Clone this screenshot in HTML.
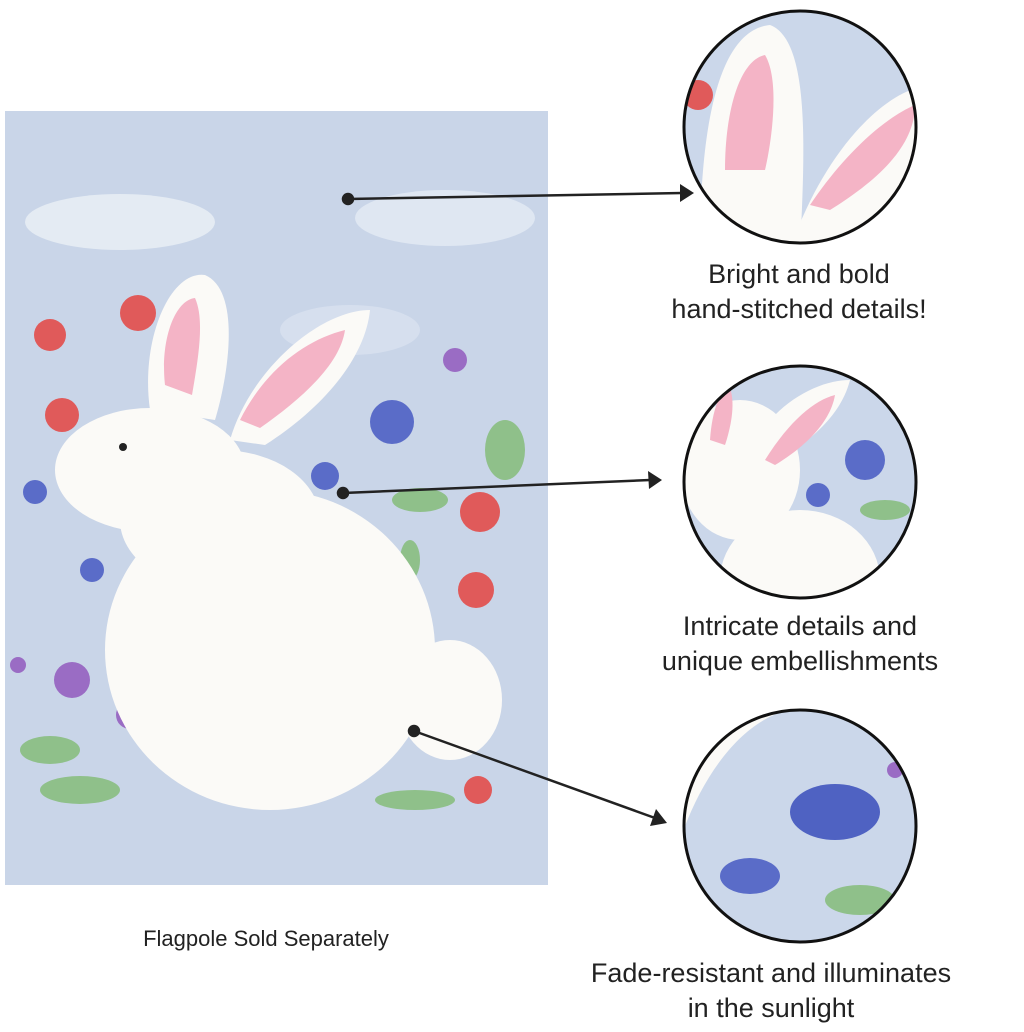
<!DOCTYPE html>
<html><head><style>
html,body{margin:0;padding:0;background:#fff;}
svg{display:block}
text{font-family:"Liberation Sans",sans-serif;fill:#222}
</style></head><body>
<svg width="1024" height="1032" viewBox="0 0 1024 1032" xmlns="http://www.w3.org/2000/svg">
<defs>
<clipPath id="c1"><circle cx="800" cy="127" r="116"/></clipPath>
<clipPath id="c2"><circle cx="800" cy="482" r="116"/></clipPath>
<clipPath id="c3"><circle cx="800" cy="826" r="116"/></clipPath>
</defs>
<rect x="5" y="111" width="543" height="774" fill="#c9d5e8"/>
<ellipse cx="120" cy="222" rx="95" ry="28" fill="#e4ebf3"/>
<ellipse cx="445" cy="218" rx="90" ry="28" fill="#dfe7f2"/>
<ellipse cx="350" cy="330" rx="70" ry="25" fill="#d6dfee"/>
<g fill="#e05a5a">
<circle cx="50" cy="335" r="16"/><circle cx="138" cy="313" r="18"/><circle cx="62" cy="415" r="17"/>
<circle cx="480" cy="512" r="20"/><circle cx="476" cy="590" r="18"/><circle cx="478" cy="790" r="14"/>
</g>
<g fill="#5a6cc8"><circle cx="35" cy="492" r="12"/><circle cx="92" cy="570" r="12"/><circle cx="392" cy="422" r="22"/><circle cx="325" cy="476" r="14"/></g>
<g fill="#9a6cc4"><circle cx="72" cy="680" r="18"/><circle cx="130" cy="715" r="14"/><circle cx="455" cy="360" r="12"/><circle cx="18" cy="665" r="8"/></g>
<g fill="#8fc08a"><ellipse cx="50" cy="750" rx="30" ry="14"/><ellipse cx="80" cy="790" rx="40" ry="14"/><ellipse cx="420" cy="500" rx="28" ry="12"/><ellipse cx="410" cy="560" rx="10" ry="20"/><ellipse cx="415" cy="800" rx="40" ry="10"/><ellipse cx="505" cy="450" rx="20" ry="30"/></g>
<g fill="#fbfaf7">
<path d="M150 410 C140 340 170 270 205 275 C240 290 230 370 215 420 Z"/>
<path d="M230 440 C250 370 320 310 370 310 C365 360 320 410 265 445 Z"/>
<ellipse cx="450" cy="700" rx="52" ry="60"/>
<ellipse cx="270" cy="650" rx="165" ry="160"/>
<ellipse cx="150" cy="470" rx="95" ry="62"/>
<ellipse cx="220" cy="520" rx="100" ry="70"/>
</g>
<path d="M165 385 C160 340 175 300 195 298 C205 320 198 360 192 395 Z" fill="#f4b4c6"/>
<path d="M240 420 C265 370 305 340 345 330 C340 365 300 400 260 428 Z" fill="#f4b4c6"/>
<circle cx="123" cy="447" r="4" fill="#222"/>
<g stroke="#222" stroke-width="2.5" fill="#222">
<circle cx="348" cy="199" r="5"/><line x1="348" y1="199" x2="682" y2="193"/>
<polygon points="694,193 680,184 680,202" stroke="none"/>
<circle cx="343" cy="493" r="5"/><line x1="343" y1="493" x2="650" y2="480"/>
<polygon points="662,480 648,471 649,489" stroke="none"/>
<circle cx="414" cy="731" r="5"/><line x1="414" y1="731" x2="655" y2="818"/>
<polygon points="667,823 656,809 650,826" stroke="none"/>
</g>
<g clip-path="url(#c1)">
<rect x="680" y="8" width="240" height="240" fill="#cbd7ea"/>
<path d="M700 250 C700 120 720 30 770 25 C810 40 805 150 800 250 Z" fill="#fbfaf7"/>
<path d="M725 170 C725 110 740 60 765 55 C780 80 772 140 765 170 Z" fill="#f4b4c6"/>
<path d="M790 250 C820 160 880 90 930 85 L930 250 Z" fill="#fbfaf7"/>
<path d="M810 205 C840 160 880 120 915 105 C915 150 870 185 830 210 Z" fill="#f4b4c6"/>
<circle cx="698" cy="95" r="15" fill="#e05a5a"/>
</g>
<circle cx="800" cy="127" r="116" fill="none" stroke="#111" stroke-width="3"/>
<g clip-path="url(#c2)">
<rect x="680" y="360" width="240" height="240" fill="#cbd7ea"/>
<ellipse cx="740" cy="470" rx="60" ry="70" fill="#fbfaf7"/>
<ellipse cx="800" cy="580" rx="80" ry="70" fill="#fbfaf7"/>
<path d="M755 440 C780 400 820 380 850 380 C840 420 800 450 765 465 Z" fill="#fbfaf7"/>
<path d="M765 460 C790 420 815 400 835 395 C830 425 800 450 775 465 Z" fill="#f4b4c6"/>
<path d="M710 440 C712 410 720 390 730 388 C736 405 730 430 725 445 Z" fill="#f4b4c6"/>
<circle cx="865" cy="460" r="20" fill="#5a6cc8"/><circle cx="818" cy="495" r="12" fill="#5a6cc8"/>
<ellipse cx="885" cy="510" rx="25" ry="10" fill="#8fc08a"/>
</g>
<circle cx="800" cy="482" r="116" fill="none" stroke="#111" stroke-width="3"/>
<g clip-path="url(#c3)">
<rect x="680" y="705" width="240" height="240" fill="#cbd7ea"/>
<path d="M680 840 C700 780 740 720 790 710 L680 705 Z" fill="#fbfaf7"/>
<path d="M700 750 C720 725 740 712 760 710 L700 705 Z" fill="#f4b4c6"/>
<ellipse cx="835" cy="812" rx="45" ry="28" fill="#4f62c2"/>
<ellipse cx="750" cy="876" rx="30" ry="18" fill="#5a6cc8"/>
<ellipse cx="860" cy="900" rx="35" ry="15" fill="#8fc08a"/>
<circle cx="895" cy="770" r="8" fill="#9a6cc4"/>
</g>
<circle cx="800" cy="826" r="116" fill="none" stroke="#111" stroke-width="3"/>
<g font-size="27" text-anchor="middle">
<text x="799" y="283">Bright and bold</text>
<text x="799" y="318">hand-stitched details!</text>
<text x="800" y="635">Intricate details and</text>
<text x="800" y="670">unique embellishments</text>
<text x="771" y="982">Fade-resistant and illuminates</text>
<text x="771" y="1017">in the sunlight</text>
</g>
<text x="266" y="946" font-size="22" text-anchor="middle">Flagpole Sold Separately</text>
</svg>
</body></html>
